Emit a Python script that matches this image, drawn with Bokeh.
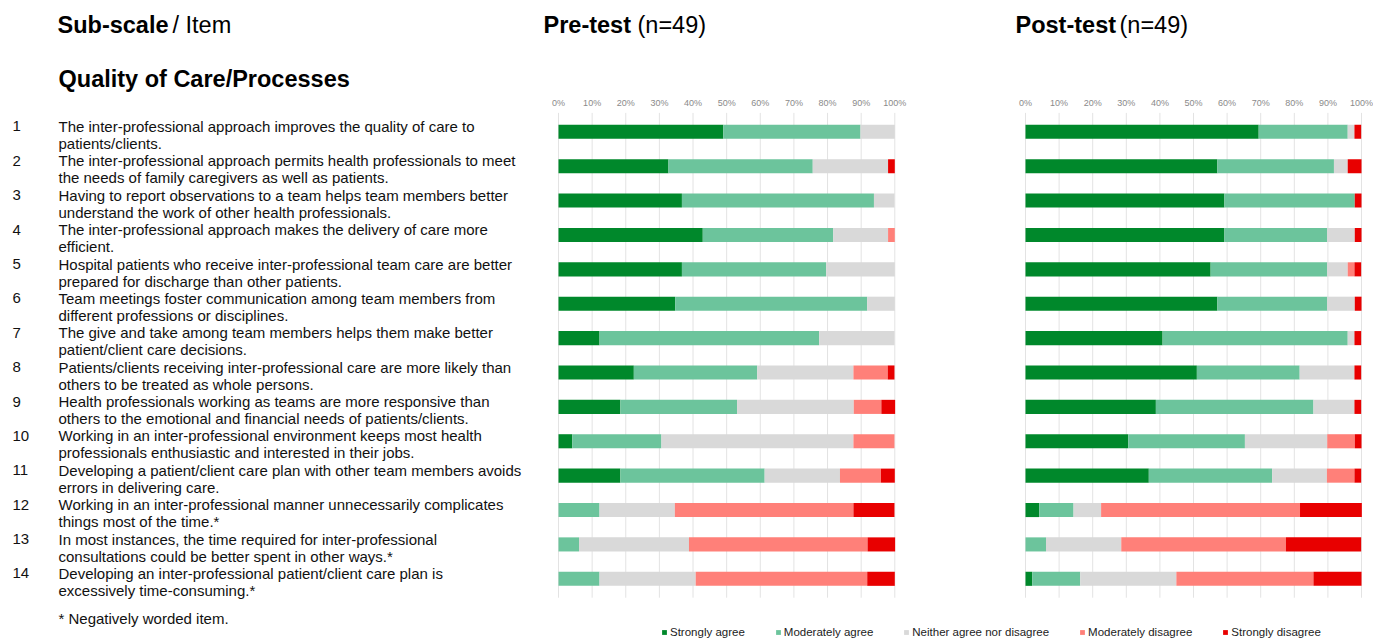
from bokeh.plotting import figure
from bokeh.models import Range1d, ColumnDataSource, Legend, LegendItem
from bokeh.core.properties import value
from bokeh.embed import file_html
from bokeh.resources import INLINE
import numpy as np

# ---------------- data ----------------
categories = ["Strongly agree", "Moderately agree", "Neither agree nor disagree",
              "Moderately disagree", "Strongly disagree"]
item_numbers = [str(i) for i in range(1, 15)]
item_line1 = [
    "The inter-professional approach improves the quality of care to",
    "The inter-professional approach permits health professionals to meet",
    "Having to report observations to a team helps team members better",
    "The inter-professional approach makes the delivery of care more",
    "Hospital patients who receive inter-professional team care are better",
    "Team meetings foster communication among team members from",
    "The give and take among team members helps them make better",
    "Patients/clients receiving inter-professional care are more likely than",
    "Health professionals working as teams are more responsive than",
    "Working in an inter-professional environment keeps most health",
    "Developing a patient/client care plan with other team members avoids",
    "Working in an inter-professional manner unnecessarily complicates",
    "In most instances, the time required for inter-professional",
    "Developing an inter-professional patient/client care plan is",
]
item_line2 = [
    "patients/clients.",
    "the needs of family caregivers as well as patients.",
    "understand the work of other health professionals.",
    "efficient.",
    "prepared for discharge than other patients.",
    "different professions or disciplines.",
    "patient/client care decisions.",
    "others to be treated as whole persons.",
    "others to the emotional and financial needs of patients/clients.",
    "professionals enthusiastic and interested in their jobs.",
    "errors in delivering care.",
    "things most of the time.*",
    "consultations could be better spent in other ways.*",
    "excessively time-consuming.*",
]

pre_strongly_agree = [49.0, 32.7, 36.7, 42.9, 36.7, 34.7, 12.2, 22.4, 18.4, 4.1, 18.4, 0.0, 0.0, 0.0]
pre_moderately_agree = [40.8, 42.9, 57.1, 38.8, 42.9, 57.1, 65.3, 36.7, 34.7, 26.5, 42.9, 12.2, 6.1, 12.2]
pre_neither = [10.2, 22.4, 6.1, 16.3, 20.4, 8.2, 22.4, 28.6, 34.7, 57.1, 22.4, 22.4, 32.7, 28.6]
pre_moderately_disagree = [0.0, 0.0, 0.0, 2.0, 0.0, 0.0, 0.0, 10.2, 8.2, 12.2, 12.2, 53.1, 53.1, 51.0]
pre_strongly_disagree = [0.0, 2.0, 0.0, 0.0, 0.0, 0.0, 0.0, 2.0, 4.1, 0.0, 4.1, 12.2, 8.2, 8.2]

post_strongly_agree = [69.4, 57.1, 59.2, 59.2, 55.1, 57.1, 40.8, 51.0, 38.8, 30.6, 36.7, 4.1, 0.0, 2.0]
post_moderately_agree = [26.5, 34.7, 38.8, 30.6, 34.7, 32.7, 55.1, 30.6, 46.9, 34.7, 36.7, 10.2, 6.1, 14.3]
post_neither = [2.0, 4.1, 0.0, 8.2, 6.1, 8.2, 2.0, 16.3, 12.2, 24.5, 16.3, 8.2, 22.4, 28.6]
post_moderately_disagree = [0.0, 0.0, 0.0, 0.0, 2.0, 0.0, 0.0, 0.0, 0.0, 8.2, 8.2, 59.2, 49.0, 40.8]
post_strongly_disagree = [2.0, 4.1, 2.0, 2.0, 2.0, 2.0, 2.0, 2.0, 2.0, 2.0, 2.0, 18.4, 22.4, 14.3]

tick_values = [0, 10, 20, 30, 40, 50, 60, 70, 80, 90, 100]
tick_labels = [f"{t}%" for t in tick_values]

colors = ["#00882b", "#6cc49c", "#d9d9d9", "#ff8079", "#e80000"]

# ---------------- layout ----------------
W, H = 1373, 640
OFF = 0  # main ranges are in picture pixel coordinates
FONT = value("Liberation Sans")

p = figure(width=W, height=H, x_range=Range1d(OFF, OFF + W), y_range=Range1d(OFF + H, OFF),
           output_backend="svg", toolbar_location=None, min_border=0,
           x_axis_location=None, y_axis_location=None)
p.grid.visible = False
p.outline_line_color = None


def val_at(q, v0, p0, v1, p1):
    scale = (p1 - p0) / (v1 - v0)
    return v0 + (q - p0) / scale


def xr(p0, p1):
    return Range1d(val_at(OFF, 0, p0, 100, p1), val_at(OFF + W, 0, p0, 100, p1))


p.extra_x_ranges = {"pre": xr(558, 894.3), "post": xr(1025, 1361)}
p.extra_y_ranges = {"items": Range1d(val_at(OFF + H, 1, 131.3, 14, 578.3),
                                     val_at(OFF, 1, 131.3, 14, 578.3))}

items = np.arange(1, 15)
keys = ["sa", "ma", "ne", "md", "sd"]

legend_renderers = None
for name, series in [("pre", [pre_strongly_agree, pre_moderately_agree, pre_neither,
                              pre_moderately_disagree, pre_strongly_disagree]),
                     ("post", [post_strongly_agree, post_moderately_agree, post_neither,
                               post_moderately_disagree, post_strongly_disagree])]:
    # grid lines
    p.segment(x0=tick_values, x1=tick_values, y0=0.45, y1=14.55,
              x_range_name=name, y_range_name="items", line_color="#e3e3e3", line_width=1)
    # tick labels
    p.text(x=tick_values, y=0.15, text=tick_labels, x_range_name=name, y_range_name="items",
           text_font=FONT, text_font_size="9px", text_color="#8a8a8a",
           text_align="center", text_baseline="middle")
    data = {"item": items}
    for k, s in zip(keys, series):
        data[k] = s
    src = ColumnDataSource(data)
    rs = p.hbar_stack(keys, y="item", height=0.41, color=colors, source=src,
                      x_range_name=name, y_range_name="items", line_color=None)
    if legend_renderers is None:
        legend_renderers = rs

# item texts
p.text(x=12, y=items - 0.155, text=item_numbers, y_range_name="items",
       text_font=FONT, text_font_size="15px", text_color="#111111", text_baseline="middle")
p.text(x=58, y=items - 0.155, text=item_line1, y_range_name="items",
       text_font=FONT, text_font_size="15px", text_color="#111111", text_baseline="middle")
p.text(x=58, y=items + 0.34, text=item_line2, y_range_name="items",
       text_font=FONT, text_font_size="15px", text_color="#111111", text_baseline="middle")

# headings
def heading(x, y, t, bold, size="23.5px"):
    p.text(x=[x], y=[y], text=[t], text_font=FONT, text_font_size=size,
           text_font_style="bold" if bold else "normal", text_color="#000000",
           text_baseline="middle")

heading(57, 24, "Sub-scale", True)
heading(172, 24, "/ Item", False)
heading(58, 78, "Quality of Care/Processes", True)
heading(543, 24, "Pre-test", True)
heading(637, 24, "(n=49)", False)
heading(1015, 24, "Post-test", True)
heading(1119, 24, "(n=49)", False)
p.text(x=[58], y=[618], text=["* Negatively worded item."], text_font=FONT,
       text_font_size="15px", text_color="#111111", text_baseline="middle")

legend = Legend(items=[LegendItem(label=c, renderers=[r]) for c, r in zip(categories, legend_renderers)],
                orientation="horizontal", location=(661, 2), spacing=30,
                glyph_width=6, glyph_height=6, label_standoff=3, label_height=10,
                label_text_font="Liberation Sans", label_text_font_size="11.5px",
                label_text_color="#222222", padding=0, margin=0,
                border_line_color=None, background_fill_alpha=0)
p.add_layout(legend)

open("out.html", "w").write(file_html(p, INLINE))
